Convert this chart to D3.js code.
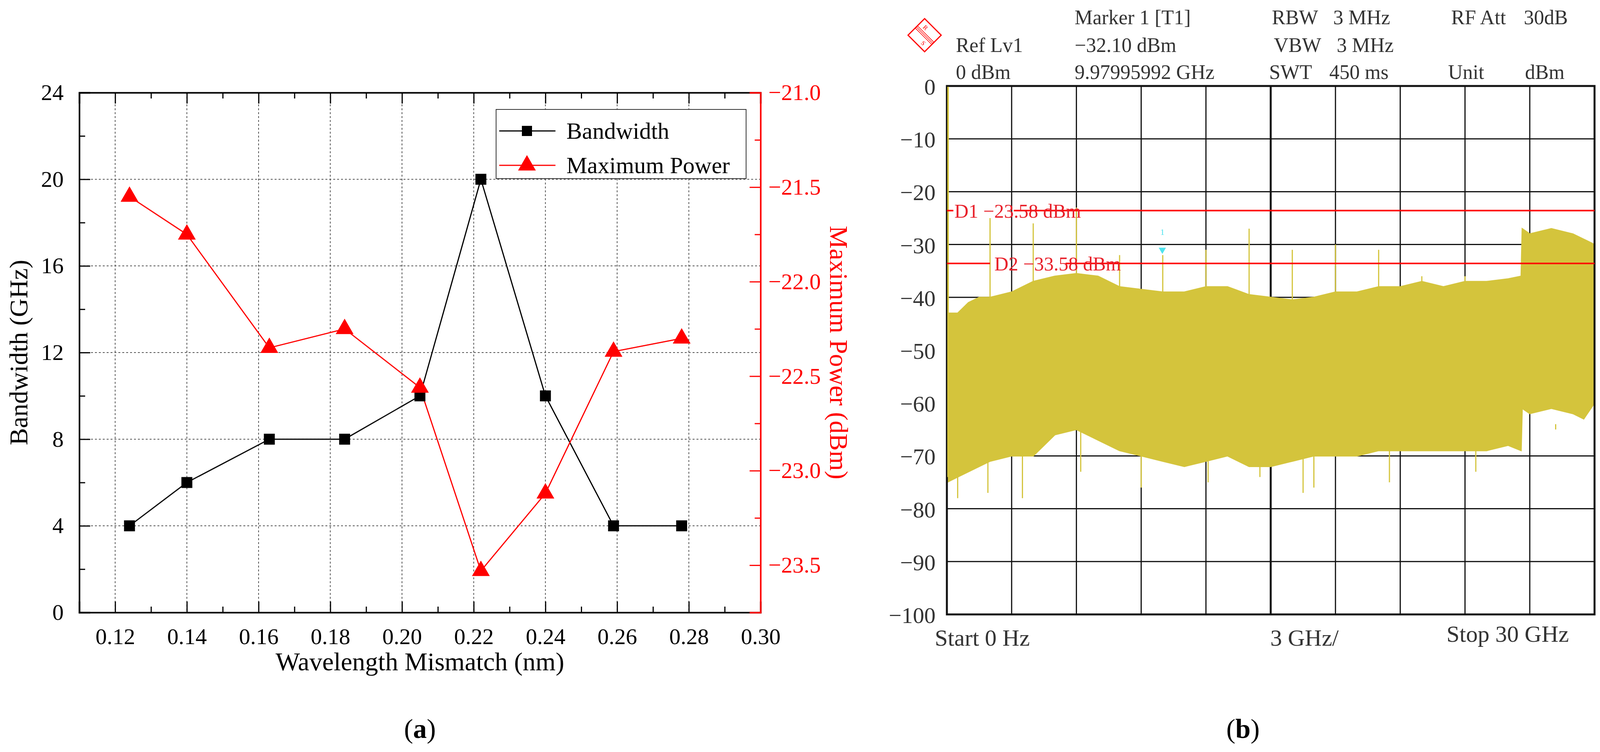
<!DOCTYPE html>
<html>
<head>
<meta charset="utf-8">
<script src="https://cdn.jsdelivr.net/npm/d3@7"></script>
<style>
  body { margin: 0; background: #fff; }
  text { font-family: "Liberation Serif", serif; }
</style>
</head>
<body>
<div id="chart"></div>
<script>
// ---- panel (a) data ----
const mismatch = [0.124, 0.14, 0.163, 0.184, 0.205, 0.222, 0.24, 0.259, 0.278];
const bandwidth = [4, 6, 8, 8, 10, 20, 10, 4, 4];
const maxPower = [-21.55, -21.75, -22.35, -22.25, -22.56, -23.53, -23.12, -22.37, -22.30];
const xTicksA = [0.12, 0.14, 0.16, 0.18, 0.20, 0.22, 0.24, 0.26, 0.28, 0.30];
const bwTicks = [0, 4, 8, 12, 16, 20, 24];
const powTicks = [-21.0, -21.5, -22.0, -22.5, -23.0, -23.5];

// ---- panel (b) data: spectrum envelope ----
const freqGHz = [0, 0.5, 1, 1.5, 2, 3, 4, 5, 6, 7, 8, 9, 10, 11, 12, 13, 14, 15, 16, 17, 18, 19, 20, 21, 22, 23, 24, 25, 26, 26.6, 26.65, 27, 28, 29, 29.5, 30];
const upperDbm = [-43, -43, -41, -40, -40, -39, -37, -36, -35.5, -36, -38, -38.5, -39, -39, -38, -38, -39.5, -40, -40.5, -40, -39, -39, -38, -38, -37, -38, -37, -37, -36.5, -36, -27, -28, -27, -28, -29, -30];
const lowerDbm = [-75, -74, -73, -72, -71, -70, -70, -66, -65, -67, -69, -70, -71, -72, -71, -70, -72, -72, -71, -70, -70, -70, -69, -69, -69, -69, -69, -69, -68, -69, -61, -62, -61, -62, -63, -60];
const spikesUp = [[0, 0], [2, -25], [4, -26], [6, -23], [8, -32], [10, -32], [12, -31], [14, -27], [16, -31], [18, -30], [20, -31], [22, -36], [24, -36]];
const spikesDown = [[0.5, -78], [1.9, -77], [3.5, -78], [6.2, -73], [9.0, -76], [12.1, -75], [14.5, -74], [16.5, -77], [17.0, -76], [20.5, -75], [24.5, -73], [28.2, -64], [29.5, -65]];
const dispLines = [{ name: "D1 \u221223.58 dBm", v: -23.58, gap: [0.3, 3.1], lab: 0.35 }, { name: "D2 \u221233.58 dBm", v: -33.58, gap: [2.0, 5.5], lab: 2.2 }];
const dbTicks = [0, -10, -20, -30, -40, -50, -60, -70, -80, -90, -100];
const header = [
  ["Marker 1 [T1]", 2751, 62], ["\u221232.10 dBm", 2751, 133], ["9.97995992 GHz", 2751, 202],
  ["Ref Lv1", 2447, 133], ["0 dBm", 2447, 202],
  ["RBW", 3256, 62], ["3 MHz", 3413, 62], ["VBW", 3261, 133], ["3 MHz", 3422, 133],
  ["SWT", 3249, 202], ["450 ms", 3403, 202],
  ["RF Att", 3715, 62], ["30dB", 3901, 62], ["Unit", 3707, 202], ["dBm", 3904, 202]
];

const svg = d3.select("#chart").append("svg").attr("width", 4108).attr("height", 1924);

// =============== panel (a) ===============
const x = d3.scaleLinear().domain([0.11, 0.30]).range([203, 1947]);
const yL = d3.scaleLinear().domain([0, 24]).range([1567, 237]);
const yR = d3.scaleLinear().domain([-23.75, -21.0]).range([1567, 237]);
const a = svg.append("g");

// dotted grid
a.selectAll(".gx").data(xTicksA.slice(0, -1)).enter().append("line")
  .attr("x1", d => x(d)).attr("x2", d => x(d)).attr("y1", 237).attr("y2", 1567)
  .attr("stroke", "#555").attr("stroke-width", 2).attr("stroke-dasharray", "5,5");
a.selectAll(".gy").data(bwTicks.slice(1, -1)).enter().append("line")
  .attr("x1", 203).attr("x2", 1947).attr("y1", d => yL(d)).attr("y2", d => yL(d))
  .attr("stroke", "#555").attr("stroke-width", 2).attr("stroke-dasharray", "5,5");

const fontA = "58px";
const xAx = a.append("g").attr("transform", "translate(0,1567)")
  .call(d3.axisBottom(x).tickValues(d3.range(0.11, 0.3001, 0.01)).tickSize(-28).tickPadding(40)
    .tickFormat(d => xTicksA.some(t => Math.abs(t - d) < 1e-6) ? d3.format(".2f")(d) : ""));
xAx.selectAll(".tick line").attr("y2", (d, i) => i % 2 ? -28 : -15);
const xTop = a.append("g").attr("transform", "translate(0,237)")
  .call(d3.axisTop(x).tickValues(d3.range(0.11, 0.3001, 0.01)).tickSize(-28).tickFormat(""));
xTop.selectAll(".tick line").attr("y2", (d, i) => i % 2 ? 28 : 15);
const yAx = a.append("g").attr("transform", "translate(203,0)")
  .call(d3.axisLeft(yL).tickValues(d3.range(0, 24.01, 2)).tickSize(-28).tickPadding(40)
    .tickFormat(d => d % 4 === 0 ? d : ""));
yAx.selectAll(".tick line").attr("x2", (d) => d % 4 === 0 ? 28 : 15);
[xAx, xTop, yAx].forEach(g => {
  g.select(".domain").attr("stroke", "#000").attr("stroke-width", 4);
  g.selectAll(".tick line").attr("stroke", "#000").attr("stroke-width", 3);
  g.selectAll("text").style("font-size", fontA).attr("fill", "#000").style("font-family", "Liberation Serif");
});
const yAxR = a.append("g").attr("transform", "translate(1947,0)")
  .call(d3.axisRight(yR).tickValues(d3.range(-23.75, -20.99, 0.25)).tickSize(-28).tickPadding(20)
    .tickFormat(d => powTicks.some(t => Math.abs(t - d) < 1e-6) ? d3.format(".1f")(d).replace("-", "\u2212") : ""));
yAxR.selectAll(".tick line").attr("x2", d => powTicks.some(t => Math.abs(t - d) < 1e-6) ? -28 : -15);
yAxR.select(".domain").attr("stroke", "red").attr("stroke-width", 4);
yAxR.selectAll(".tick line").attr("stroke", "red").attr("stroke-width", 3);
yAxR.selectAll("text").style("font-size", fontA).attr("fill", "red").style("font-family", "Liberation Serif");

// series
const lineBw = d3.line().x((d, i) => x(mismatch[i])).y(d => yL(d));
const linePw = d3.line().x((d, i) => x(mismatch[i])).y(d => yR(d));
a.append("path").attr("d", lineBw(bandwidth)).attr("fill", "none").attr("stroke", "#000").attr("stroke-width", 3);
a.append("path").attr("d", linePw(maxPower)).attr("fill", "none").attr("stroke", "red").attr("stroke-width", 3);
a.selectAll(".sq").data(bandwidth).enter().append("rect")
  .attr("x", (d, i) => x(mismatch[i]) - 14).attr("y", d => yL(d) - 14)
  .attr("width", 28).attr("height", 28).attr("fill", "#000");
const tri = d3.symbol().type(d3.symbolTriangle).size(900);
a.selectAll(".tri").data(maxPower).enter().append("path")
  .attr("d", tri).attr("transform", (d, i) => `translate(${x(mismatch[i])},${yR(d)})`).attr("fill", "red");

// legend
const lg = a.append("g");
lg.append("rect").attr("x", 1270).attr("y", 280).attr("width", 640).attr("height", 177)
  .attr("fill", "#fff").attr("stroke", "#333").attr("stroke-width", 2);
[["Bandwidth", "#000", "sq"], ["Maximum Power", "red", "tri"]].forEach((e, i) => {
  const yy = 335 + i * 88;
  lg.append("line").attr("x1", 1278).attr("x2", 1422).attr("y1", yy).attr("y2", yy).attr("stroke", e[1]).attr("stroke-width", 3);
  if (e[2] === "sq") lg.append("rect").attr("x", 1336).attr("y", yy - 13).attr("width", 26).attr("height", 26).attr("fill", "#000");
  else lg.append("path").attr("d", tri).attr("transform", `translate(1349,${yy})`).attr("fill", "red");
  lg.append("text").attr("x", 1450).attr("y", yy + 20).style("font-size", "60px").text(e[0]);
});

a.append("text").attr("x", 1075).attr("y", 1715).attr("text-anchor", "middle").style("font-size", "66px").text("Wavelength Mismatch (nm)");
a.append("text").attr("transform", "translate(70,902) rotate(-90)").attr("text-anchor", "middle").style("font-size", "66px").text("Bandwidth (GHz)");
a.append("text").attr("transform", "translate(2125,902) rotate(90)").attr("text-anchor", "middle").attr("fill", "red").style("font-size", "66px").text("Maximum Power (dBm)");
a.append("text").attr("x", 1075).attr("y", 1888).attr("text-anchor", "middle").style("font-size", "70px")
  .html('(<tspan font-weight="bold">a</tspan>)');

// =============== panel (b) ===============
const fx = d3.scaleLinear().domain([0, 30]).range([2424, 4082]);
const fy = d3.scaleLinear().domain([-100, 0]).range([1572, 220]);
const b = svg.append("g");
const grey = "#333";

// grid (behind the trace)
b.selectAll(".vx").data(d3.range(3, 30, 3)).enter().append("line")
  .attr("x1", d => fx(d)).attr("x2", d => fx(d)).attr("y1", 220).attr("y2", 1572)
  .attr("stroke", "#111").attr("stroke-width", d => d === 15 ? 5 : 3);
b.selectAll(".hy").data(dbTicks.slice(1, -1)).enter().append("line")
  .attr("x1", 2424).attr("x2", 4082).attr("y1", d => fy(d)).attr("y2", d => fy(d))
  .attr("stroke", "#111").attr("stroke-width", 3);

// spectrum
const trace = "#d4c43c";
b.append("path").datum(freqGHz)
  .attr("d", d3.area().x(d => fx(d)).y0((d, i) => fy(lowerDbm[i])).y1((d, i) => fy(upperDbm[i])))
  .attr("fill", trace).attr("stroke", trace).attr("stroke-width", 3);
b.selectAll(".su").data(spikesUp).enter().append("line")
  .attr("x1", d => fx(d[0])).attr("x2", d => fx(d[0])).attr("y1", d => fy(d[1])).attr("y2", fy(-45))
  .attr("stroke", trace).attr("stroke-width", 3);
b.selectAll(".sd").data(spikesDown).enter().append("line")
  .attr("x1", d => fx(d[0])).attr("x2", d => fx(d[0])).attr("y1", d => fy(d[1])).attr("y2", fy(-65))
  .attr("stroke", trace).attr("stroke-width", 3);

b.append("rect").attr("x", 2424).attr("y", 220).attr("width", 1658).attr("height", 1352)
  .attr("fill", "none").attr("stroke", "#111").attr("stroke-width", 5);
b.append("line").attr("x1", fx(0) + 3).attr("x2", fx(0) + 3).attr("y1", 222).attr("y2", fy(-74)).attr("stroke", trace).attr("stroke-width", 4);

// display lines
dispLines.forEach(dl => {
  b.append("line").attr("x1", 2424).attr("x2", fx(dl.gap[0])).attr("y1", fy(dl.v)).attr("y2", fy(dl.v)).attr("stroke", "red").attr("stroke-width", 4);
  b.append("line").attr("x1", fx(dl.gap[1])).attr("x2", 4082).attr("y1", fy(dl.v)).attr("y2", fy(dl.v)).attr("stroke", "red").attr("stroke-width", 4);
  b.append("text").attr("x", fx(dl.lab)).attr("y", fy(dl.v) + 18).attr("fill", "#e8202a").style("font-size", "50px").text(dl.name);
});

// marker
b.append("path").attr("d", d3.symbol().type(d3.symbolTriangle).size(150))
  .attr("transform", `translate(${fx(9.98)},${fy(-31)}) rotate(180)`).attr("fill", "#4fe3ee");
b.append("text").attr("x", fx(9.98)).attr("y", fy(-28.2)).attr("text-anchor", "middle").attr("fill", "#4fe3ee").style("font-size", "22px").text("1");

// y tick labels
b.selectAll(".yl").data(dbTicks).enter().append("text")
  .attr("x", 2395).attr("y", d => fy(d) + 22).attr("text-anchor", "end").attr("fill", grey).style("font-size", "58px")
  .text(d => d === 0 ? "0" : "\u2212" + Math.abs(d));

// header
header.forEach(h => b.append("text").attr("x", h[1]).attr("y", h[2]).attr("fill", grey).style("font-size", "52px").text(h[0]));
const logo = b.append("g").attr("transform", "translate(2367,90) rotate(45)");
logo.append("rect").attr("x", -30).attr("y", -30).attr("width", 60).attr("height", 60).attr("fill", "none").attr("stroke", "red").attr("stroke-width", 3);
[-4, 0, 4].forEach(o => logo.append("line").attr("x1", -30).attr("x2", 30).attr("y1", o).attr("y2", o).attr("stroke", "red").attr("stroke-width", 1.5));
logo.append("text").attr("x", -12).attr("y", -10).attr("fill", "red").attr("text-anchor", "middle").style("font-size", "16px").text("R");
logo.append("text").attr("x", 12).attr("y", 22).attr("fill", "red").attr("text-anchor", "middle").style("font-size", "16px").text("S");

b.append("text").attr("x", 2393).attr("y", 1652).attr("fill", grey).style("font-size", "60px").text("Start 0 Hz");
b.append("text").attr("x", 3252).attr("y", 1652).attr("fill", grey).style("font-size", "60px").text("3 GHz/");
b.append("text").attr("x", 3703).attr("y", 1642).attr("fill", grey).style("font-size", "60px").text("Stop 30 GHz");
b.append("text").attr("x", 3182).attr("y", 1888).attr("text-anchor", "middle").style("font-size", "70px")
  .html('(<tspan font-weight="bold">b</tspan>)');
</script>
</body>
</html>
